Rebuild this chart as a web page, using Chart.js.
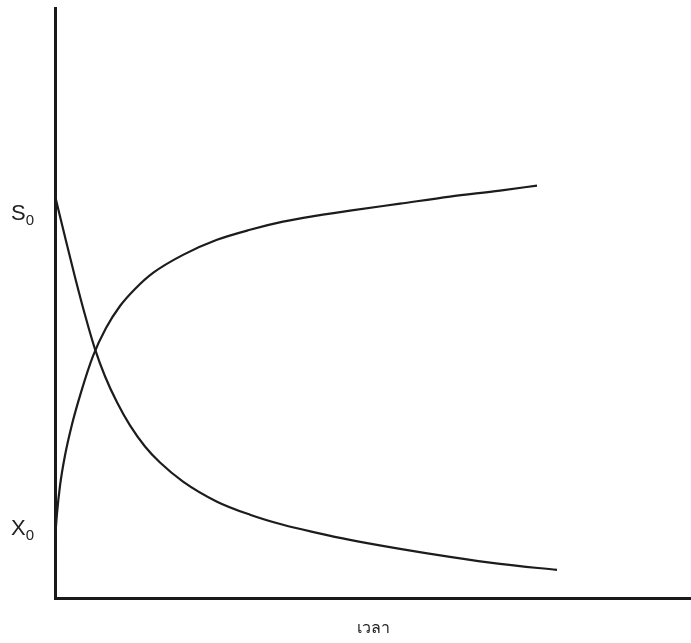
<!DOCTYPE html>
<html>
<head>
<meta charset="utf-8">
<script src="https://cdn.jsdelivr.net/npm/chart.js@4.4.1/dist/chart.umd.min.js"></script>
<style>
  html, body { margin: 0; padding: 0; background: #fff; }
  #wrap { width: 691px; height: 643px; }
</style>
</head>
<body>
<div id="wrap"><canvas id="growthChart"></canvas></div>
<script>
// substrate (falls from S0) and biomass (rises from X0) against time
const substrateTime = [0, 1.57, 3.14, 4.72, 6.29, 7.86, 9.75, 11.79, 14.15, 16.51, 20.13, 25.47, 30.66, 35.85, 41.19, 46.38, 54.25, 62.11, 69.97, 78.93];
const substrateValue = [68.2, 61.22, 54.42, 47.96, 42.18, 37.59, 33.16, 29.25, 25.68, 22.96, 19.73, 16.33, 14.12, 12.41, 11.05, 9.86, 8.33, 6.97, 5.78, 4.76];

const biomassTime = [0, 0.31, 0.79, 1.57, 2.67, 4.09, 5.97, 8.02, 10.22, 12.58, 15.41, 20.13, 25.47, 30.66, 35.85, 41.19, 46.38, 54.25, 62.11, 69.97, 75.79];
const biomassValue = [9.86, 14.29, 19.05, 24.15, 29.42, 34.86, 40.99, 45.75, 49.49, 52.38, 55.10, 58.16, 60.71, 62.41, 63.78, 64.80, 65.65, 66.84, 68.03, 69.05, 69.90];

// y-axis marks
const axisMarks = ['S', 'X'];
const axisMarkLevels = [65.5, 12.1];
const xTitle = 'เวลา';

const toPoints = (xs, ys) => xs.map((x, i) => ({ x: x, y: ys[i] }));

// draws S0 / X0 beside the y axis with a subscript zero
const markLabels = {
    id: 'markLabels',
    afterDraw(chart) {
        const c = chart.ctx;
        const yScale = chart.scales.y;
        c.save();
        c.fillStyle = '#222';
        c.textBaseline = 'alphabetic';
        axisMarks.forEach((m, i) => {
            const py = yScale.getPixelForValue(axisMarkLevels[i]);
            c.font = '22px "Liberation Sans", Arial, sans-serif';
            c.fillText(m, 11, py + 8);
            const w = c.measureText(m).width;
            c.font = '15px "Liberation Sans", Arial, sans-serif';
            c.fillText('0', 11 + w, py + 13);
        });
        c.restore();
    }
};

const ctx = document.getElementById('growthChart');
new Chart(ctx, {
    type: 'line',
    data: {
        datasets: [{
            label: 'substrate',
            data: toPoints(substrateTime, substrateValue),
            borderColor: '#1c1c1c',
            borderWidth: 2.2,
            pointRadius: 0,
            cubicInterpolationMode: 'monotone',
            fill: false
        }, {
            label: 'biomass',
            data: toPoints(biomassTime, biomassValue),
            borderColor: '#1c1c1c',
            borderWidth: 2.2,
            pointRadius: 0,
            cubicInterpolationMode: 'monotone',
            fill: false
        }]
    },
    options: {
        responsive: true,
        maintainAspectRatio: false,
        animation: false,
        layout: { padding: { top: 8, right: 0, left: 0, bottom: 0 } },
        plugins: {
            legend: { display: false },
            tooltip: { enabled: false }
        },
        scales: {
            x: {
                type: 'linear',
                min: 0,
                max: 100,
                grid: { display: false },
                border: { display: true, color: '#1a1a1a', width: 3 },
                ticks: { display: false },
                title: {
                    display: true,
                    text: xTitle,
                    color: '#222',
                    font: { size: 16, family: '"Noto Sans", "DejaVu Sans", sans-serif' },
                    padding: { top: 12, bottom: 5 }
                },
                afterFit(scale) { scale.height = 45; }
            },
            y: {
                min: 0,
                max: 100,
                grid: { display: false },
                border: { display: true, color: '#1a1a1a', width: 3 },
                ticks: { display: false },
                afterFit(scale) { scale.width = 55; }
            }
        }
    },
    plugins: [markLabels]
});
</script>
</body>
</html>
